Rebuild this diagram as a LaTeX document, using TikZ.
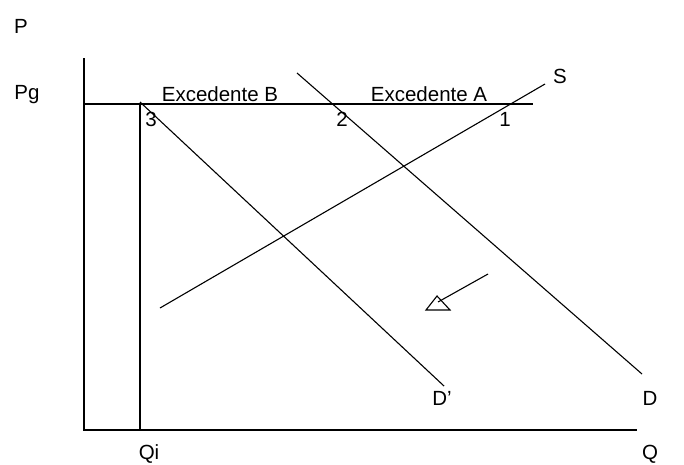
\documentclass[tikz,border=0pt]{standalone}
\usepackage{fontspec}
\setmainfont{Liberation Sans}
\begin{document}
\begin{tikzpicture}[x=1pt,y=-1pt,
  ln/.style={line width=1.1pt,black},
  lbl/.style={font=\fontsize{20.5}{24}\selectfont,inner sep=0pt,anchor=base}]
\useasboundingbox (0,0) rectangle (684,464);
% coordinates
\coordinate (ytop) at (84,58);
\coordinate (orig) at (84,430);
\coordinate (xend) at (637,430);
\coordinate (pgL) at (84,104);
\coordinate (pgR) at (533,104);
\coordinate (qiT) at (140,104);
\coordinate (qiB) at (140,430);
\coordinate (sA) at (160,308);
\coordinate (sB) at (545,84);
\coordinate (dA) at (297,73);
\coordinate (dB) at (642,374);
\coordinate (dpA) at (140,102);
\coordinate (dpB) at (444,386);
\coordinate (arA) at (488,274);
\coordinate (arB) at (438,302);
\coordinate (t1) at (426,310);
\coordinate (t2) at (450,310);
\coordinate (t3) at (437,296);
% axes
\draw[ln] (ytop) -- (orig) -- (xend);
\draw[ln] (pgL) -- (pgR);
\draw[ln] (qiT) -- (qiB);
% curves
\draw[ln] (sA) -- (sB);
\draw[ln] (dA) -- (dB);
\draw[ln] (dpA) -- (dpB);
% small arrow
\draw[ln] (arA) -- (arB);
\draw[ln,line join=miter] (t1) -- (t2) -- (t3) -- cycle;
% labels
\node[lbl] (P) at (21,33) {P};
\node[lbl] (Pg) at (27,99) {Pg};
\node[lbl] (exB) at (220,101) {Excedente B};
\node[lbl] (exA) at (429,101) {Excedente A};
\node[lbl] (n3) at (151,126) {3};
\node[lbl] (n2) at (342,126) {2};
\node[lbl] (n1) at (505,126) {1};
\node[lbl] (S) at (560,83) {S};
\node[lbl] (Dp) at (442,405) {D'};
\node[lbl] (D) at (650,405) {D};
\node[lbl] (Qi) at (149,459) {Qi};
\node[lbl] (Q) at (650,459) {Q};
\end{tikzpicture}
\end{document}
